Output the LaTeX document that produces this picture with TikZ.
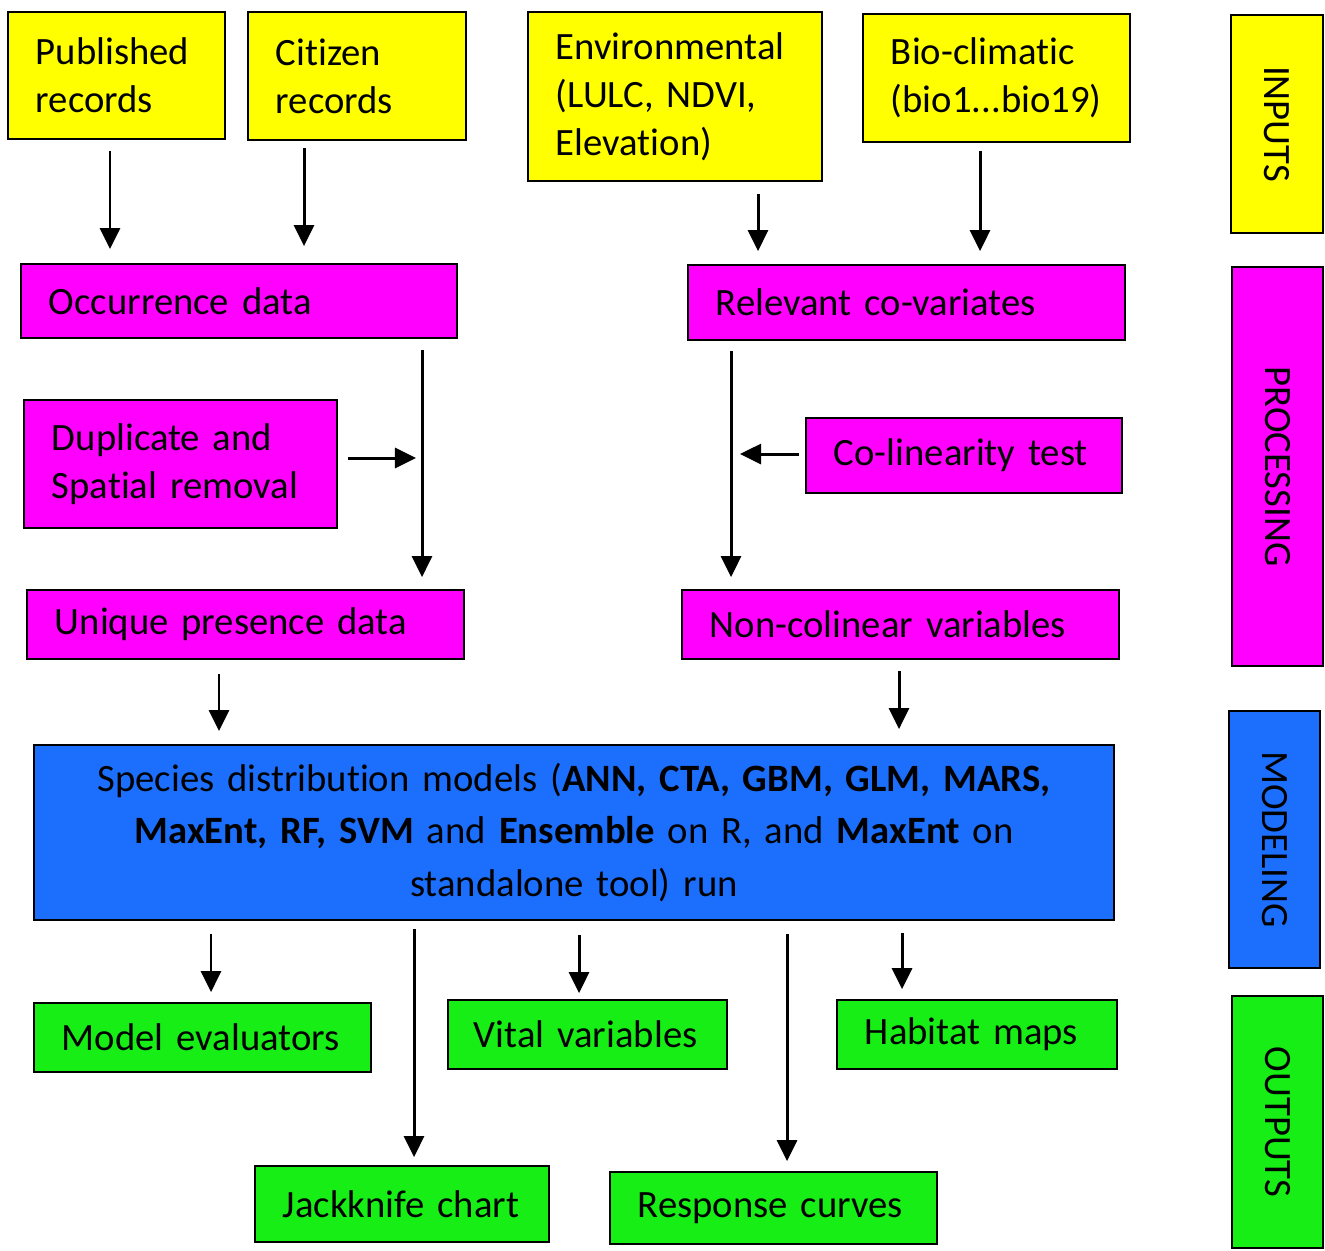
\documentclass[tikz,border=0pt]{standalone}
\usepackage{fontspec}
\setmainfont{Carlito}[Ligatures={NoCommon}]
\usetikzlibrary{arrows.meta,calc}
\hyphenpenalty=10000
\exhyphenpenalty=10000
\definecolor{cyel}{RGB}{255,255,0}
\definecolor{cmag}{RGB}{255,0,255}
\definecolor{cblu}{RGB}{28,110,252}
\definecolor{cgrn}{RGB}{22,238,22}
\tikzset{
  box/.style={draw=black, line width=0.5pt, inner xsep=0.28cm, inner ysep=0pt,
    align=left, font=\fontsize{11}{13.7}\selectfont, text=black},
  ybox/.style={box, fill=cyel},
  mbox/.style={box, fill=cmag},
  gbox/.style={box, fill=cgrn},
  bbox/.style={box, fill=cblu},
  side/.style={draw=black, line width=0.5pt, inner sep=0pt, rotate=-90,
    font=\fontsize{11}{13.7}\selectfont, text=black, align=center},
  arr/.style={line width=0.85pt, -{Triangle[width=0.2cm,length=0.21cm]}}
}
\begin{document}
\begin{tikzpicture}[x=0.01cm, y=-0.01cm]
\useasboundingbox (0,0) rectangle (1325,1250);
% inputs
\node[ybox, minimum width=2.17cm, text width=1.61cm, minimum height=1.27cm] (pub) at (116.5,75.5) {Published\\records};
\node[ybox, minimum width=2.18cm, text width=1.62cm, minimum height=1.28cm] (cit) at (357,76) {Citizen\\records};
\node[ybox, minimum width=2.94cm, text width=2.38cm, minimum height=1.69cm] (env) at (675,96.5) {Environmental\\(LULC, NDVI,\\Elevation)};
\node[ybox, minimum width=2.67cm, text width=2.11cm, minimum height=1.28cm] (bio) at (996.5,78) {Bio-climatic\\(bio1...bio19)};
% processing
\node[mbox, minimum width=4.36cm, text width=3.80cm, minimum height=0.74cm] (occ) at (239,301) {Occurrence data};
\node[mbox, minimum width=4.37cm, text width=3.81cm, minimum height=0.75cm] (rel) at (906.5,302.5) {Relevant co-variates};
\node[mbox, minimum width=3.13cm, text width=2.57cm, minimum height=1.28cm] (dup) at (180.5,464) {Duplicate and\\Spatial removal};
\node[mbox, minimum width=3.16cm, text width=2.60cm, minimum height=0.75cm] (col) at (964,455.5) {Co-linearity test};
\node[mbox, minimum width=4.37cm, text width=3.81cm, minimum height=0.69cm] (uni) at (245.5,624.5) {Unique presence data};
\node[mbox, minimum width=4.37cm, text width=3.81cm, minimum height=0.69cm] (non) at (900.5,624.5) {Non-colinear variables};
% modeling
\node[bbox, minimum width=10.80cm, text width=10.5cm, inner xsep=0.15cm, minimum height=1.75cm, align=center,
  font=\fontsize{11}{14.8}\selectfont] (sdm) at (574,832.5)
  {Species distribution models (\textbf{ANN, CTA, GBM, GLM, MARS,}\\
   \textbf{MaxEnt, RF, SVM} and \textbf{Ensemble} on R, and \textbf{MaxEnt} on\\
   standalone tool) run};
% outputs
\node[gbox, minimum width=3.37cm, text width=2.81cm, minimum height=0.69cm] (eval) at (202.5,1037.5) {Model evaluators};
\node[gbox, minimum width=2.79cm, text width=2.37cm, inner xsep=0.21cm, minimum height=0.69cm] (vit) at (587.5,1034.5) {\hspace*{0.05cm}Vital variables};
\node[gbox, minimum width=2.80cm, text width=2.24cm, minimum height=0.69cm] (hab) at (977,1034.5) {Habitat maps};
\node[gbox, minimum width=2.94cm, text width=2.38cm, minimum height=0.76cm] (jack) at (402,1204) {Jackknife chart};
\node[gbox, minimum width=3.27cm, text width=2.71cm, minimum height=0.72cm] (resp) at (773.5,1208) {Response curves};
% side labels
\node[side, fill=cyel, minimum width=2.18cm, minimum height=0.92cm] (inp) at (1277,124) {INPUTS};
\node[side, fill=cmag, minimum width=3.99cm, minimum height=0.91cm] (proc) at (1277.5,466.5) {PROCESSING};
\node[side, fill=cblu, minimum width=2.57cm, minimum height=0.91cm] (mod) at (1274.5,839.5) {MODELING};
\node[side, fill=cgrn, minimum width=2.52cm, minimum height=0.91cm] (out) at (1277.5,1122) {OUTPUTS};
% arrows
\draw[arr] ($(pub.south)+(-6.5,11)$) -- ($(occ.north)+(-129,-14)$);
\draw[arr] ($(cit.south)+(-53,7)$) -- ($(occ.north)+(65,-17)$);
\draw[arr] ($(env.south)+(83,12)$) -- ($(rel.north)+(-148.5,-13)$);
\draw[arr] ($(bio.south)+(-16.5,8)$) -- ($(rel.north)+(73.5,-13)$);
\draw[arr] ($(occ.south)+(183,11)$) -- ($(uni.north)+(176.5,-12)$);
\draw[arr] ($(dup.east)+(10,-6)$) -- ($(dup.east)+(78,-6)$);
\draw[arr] ($(rel.south)+(-175.5,10)$) -- ($(non.north)+(-169.5,-12)$);
\draw[arr] ($(col.west)+(-6,-1.5)$) -- ($(col.west)+(-65,-1.5)$);
\draw[arr] ($(uni.south)+(-26.5,14)$) -- ($(sdm.north)+(-355,-13)$);
\draw[arr] ($(non.south)+(-1.5,11)$) -- ($(sdm.north)+(325,-15)$);
\draw[arr] ($(sdm.south)+(-363,13)$) -- ($(eval.north)+(8.5,-10)$);
\draw[arr] ($(sdm.south)+(-160,8)$) -- ($(jack.north)+(12,-8)$);
\draw[arr] ($(sdm.south)+(5,14)$) -- ($(vit.north)+(-8.5,-6)$);
\draw[arr] ($(sdm.south)+(213,13)$) -- ($(resp.north)+(13.5,-10)$);
\draw[arr] ($(sdm.south)+(328,12)$) -- ($(hab.north)+(-75,-10)$);
\end{tikzpicture}
\end{document}
